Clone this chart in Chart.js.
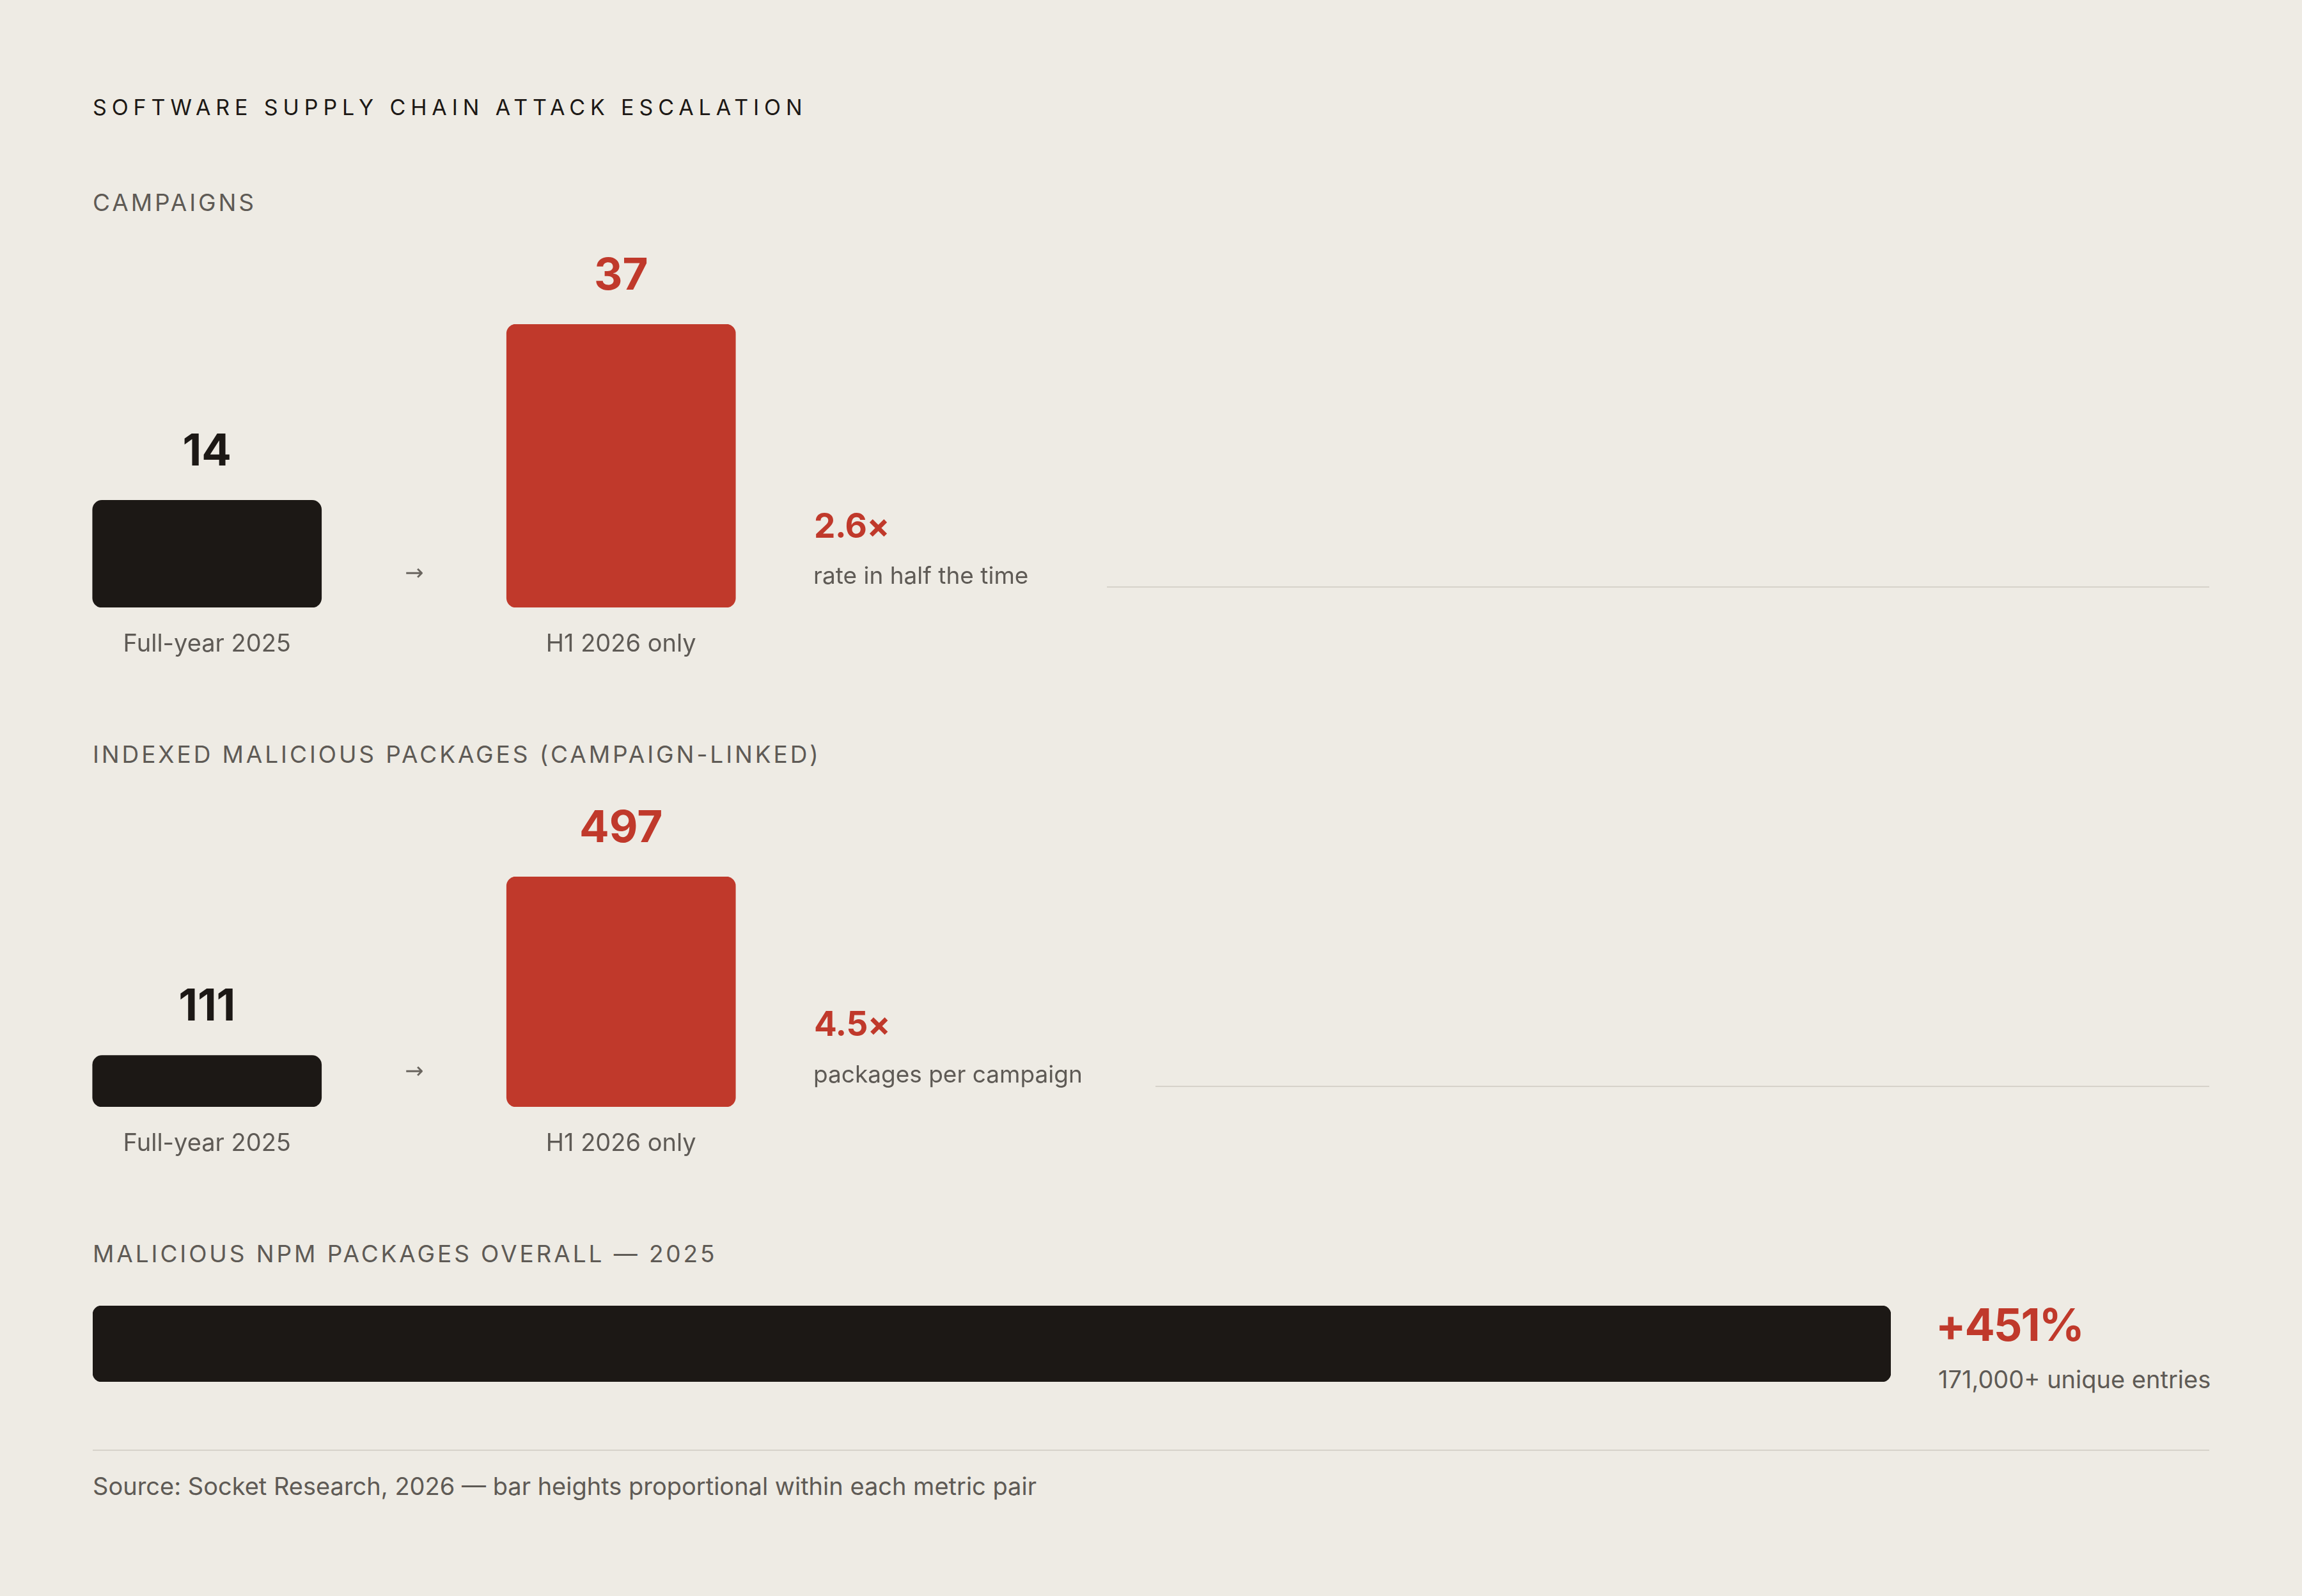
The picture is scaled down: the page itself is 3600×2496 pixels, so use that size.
<!doctype html>
<html lang="en">
<head>
<meta charset="utf-8">
<title>Software supply chain attack escalation</title>
<script src="https://cdn.jsdelivr.net/npm/chart.js@4.4.1/dist/chart.umd.min.js"></script>
<style>
  html, body { margin: 0; padding: 0; }
  body {
    width: 3600px; height: 2496px; position: relative; overflow: hidden;
    background: #EEEBE4; color: #1C1815;
    font-family: Inter, "Open Sans", sans-serif;
  }
  .t { position: absolute; white-space: nowrap; line-height: 1; }
  .title { left: 145px; top: 151px; font-size: 34px; letter-spacing: 7.9px; }
  .section { left: 145px; font-size: 37px; letter-spacing: 3.9px; color: #5E5A55; }
  .ratio { left: 1273px; font-size: 53px; font-weight: 700; letter-spacing: -0.5px; color: #C0392B; }
  .note { font-size: 37px; color: #5E5A55; }
  .arrow { font-family: "DejaVu Sans", sans-serif; font-size: 35px; color: #6A655F; width: 80px; text-align: center; left: 608px; }
  .rule { position: absolute; height: 2px; background: #D6D2CA; }
  .box { position: absolute; }
</style>
</head>
<body>

<div class="t title">SOFTWARE SUPPLY CHAIN ATTACK ESCALATION</div>

<div class="t section" style="top: 298px;">CAMPAIGNS</div>
<div class="box" style="left: 0; top: 380px; width: 1295px; height: 680px;"><canvas id="campaignChart"></canvas></div>
<div class="t arrow" style="top: 878px;">→</div>
<div class="t ratio" style="top: 796px;">2.6×</div>
<div class="t note" style="left: 1272px; top: 881px;">rate in half the time</div>
<div class="rule" style="left: 1731px; width: 1724px; top: 917px;"></div>

<div class="t section" style="top: 1161px;">INDEXED MALICIOUS PACKAGES (CAMPAIGN-LINKED)</div>
<div class="box" style="left: 0; top: 1240px; width: 1295px; height: 601px;"><canvas id="packageChart"></canvas></div>
<div class="t arrow" style="top: 1657px;">→</div>
<div class="t ratio" style="top: 1575px;">4.5×</div>
<div class="t note" style="left: 1272px; top: 1661px;">packages per campaign</div>
<div class="rule" style="left: 1807px; width: 1648px; top: 1698px;"></div>

<div class="t section" style="top: 1942px;">MALICIOUS NPM PACKAGES OVERALL — 2025</div>
<div class="box" style="left: 145px; top: 2042px; width: 2812px; height: 119px;"><canvas id="npmChart"></canvas></div>
<div class="t ratio" style="left: 3027px; top: 2037px; font-size: 70px; letter-spacing: -2px;">+451%</div>
<div class="t note" style="left: 3031px; top: 2138px; font-size: 38px;">171,000+ unique entries</div>

<div class="rule" style="left: 145px; width: 3310px; top: 2267px;"></div>
<div class="t note" style="left: 145px; top: 2305px; font-size: 38px;">Source: Socket Research, 2026 — bar heights proportional within each metric pair</div>

<script>
  // data
  var pairLabels = ['Full-year 2025', 'H1 2026 only'];
  var campaigns = [14, 37];
  var campaignPackages = [111, 497];
  var npmLabels = ['2025'];
  var npmPackages = [171000];

  const INK = '#1C1815';
  const RED = '#C0392B';
  const GREY = '#5E5A55';
  const FONT = 'Inter, "Open Sans", sans-serif';

  Chart.defaults.font.family = FONT;
  Chart.defaults.animation = false;

  // numbers drawn above each bar
  const valueLabels = {
    id: 'valueLabels',
    afterDatasetsDraw(chart, args, opts) {
      const ctx = chart.ctx;
      const values = chart.data.datasets[0].data;
      chart.getDatasetMeta(0).data.forEach((bar, i) => {
        ctx.save();
        ctx.font = '700 69px ' + FONT;
        ctx.fillStyle = opts.colors[i];
        ctx.textAlign = 'center';
        ctx.textBaseline = 'middle';
        ctx.fillText(values[i].toLocaleString('en-US'), bar.x, bar.y - 75);
        ctx.restore();
      });
    }
  };

  function PairChart(id, values, topPad) {
    return new Chart(document.getElementById(id), {
      type: 'bar',
      data: {
        labels: pairLabels,
        datasets: [{
          data: values,
          backgroundColor: [INK, RED],
          borderRadius: 15,
          borderSkipped: false,
          barThickness: 358,
        }]
      },
      options: {
        responsive: true,
        maintainAspectRatio: false,
        layout: { padding: { top: topPad, left: 0, right: 0, bottom: 0 } },
        scales: {
          x: {
            grid: { display: false, drawTicks: false },
            border: { display: false },
            ticks: { color: GREY, font: { size: 38 }, padding: 35, maxRotation: 0 },
            afterFit: (scale) => { scale.height = 110; }
          },
          y: { display: false, min: 0, max: Math.max(...values) }
        },
        plugins: {
          legend: { display: false },
          tooltip: { enabled: false },
          valueLabels: { colors: [INK, RED] }
        }
      },
      plugins: [valueLabels]
    });
  }

  PairChart('campaignChart', campaigns, 127);
  PairChart('packageChart', campaignPackages, 131);

  new Chart(document.getElementById('npmChart'), {
    type: 'bar',
    data: {
      labels: npmLabels,
      datasets: [{
        data: npmPackages,
        backgroundColor: INK,
        borderRadius: 14,
        borderSkipped: false,
        barPercentage: 1,
        categoryPercentage: 1,
      }]
    },
    options: {
      indexAxis: 'y',
      responsive: true,
      maintainAspectRatio: false,
      layout: { padding: 0 },
      scales: {
        x: { display: false, min: 0, max: Math.max(...npmPackages) },
        y: { display: false }
      },
      plugins: { legend: { display: false }, tooltip: { enabled: false } }
    }
  });
</script>
</body>
</html>
